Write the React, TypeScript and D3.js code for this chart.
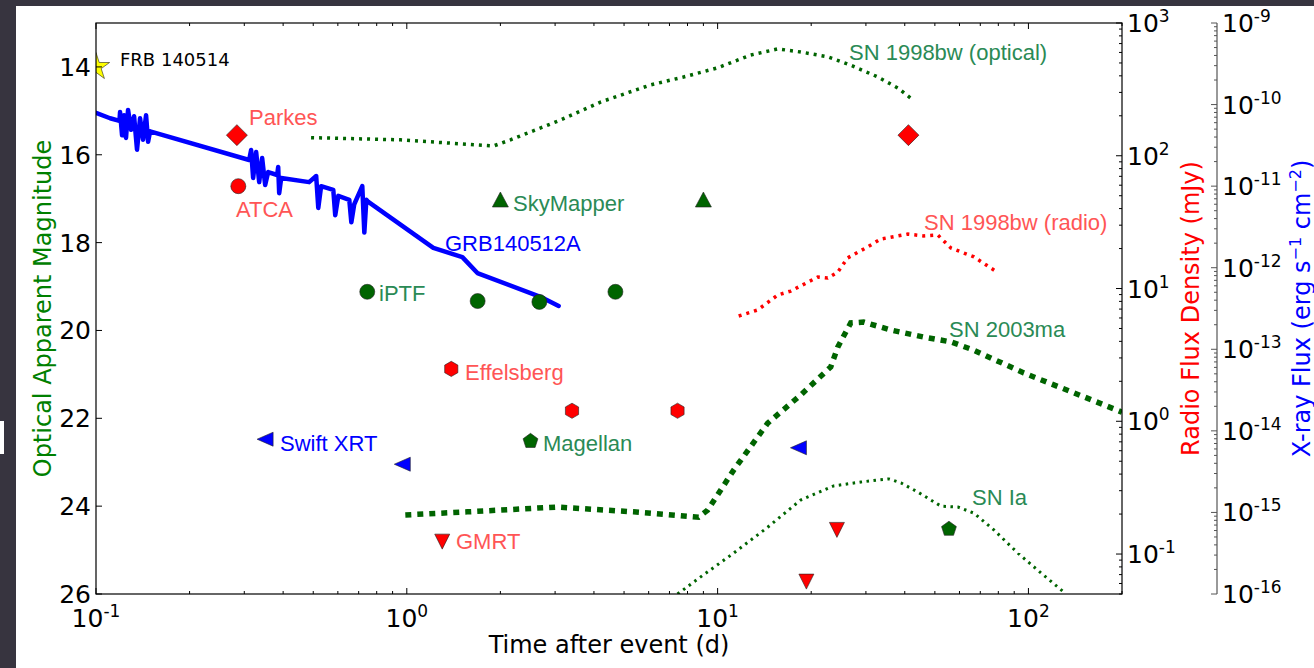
import * as d3 from "d3";

const W = 1314, H = 668;
const L = 96, R = 1122, T = 23, B = 594;
const XSPINE = 1217;

// FRB
const frbT = [0.1];
const frbMag = [14];

// optical detections / limits (mag)
const skyMapperT = [2.0, 9.0];
const skyMapperMag = [17.03, 17.03];
const iptfT = [0.746, 1.69, 2.67, 4.69];
const iptfMag = [19.12, 19.33, 19.35, 19.12];
const magellanT = [2.5, 55.5];
const magellanMag = [22.52, 24.52];

// radio (mJy)
const parkesT = [0.284, 41.1];
const parkesFlux = [143, 143];
const atcaT = [0.287];
const atcaFlux = [59];
const effelsbergT = [1.39, 3.4, 7.43];
const effelsbergFlux = [2.48, 1.2, 1.2];
const gmrtT = [1.3, 19.3, 24.2];
const gmrtFlux = [0.124, 0.062, 0.152];

// x-ray (erg s^-1 cm^-2)
const xrtT = [0.35, 0.967, 18.2];
const xrtFlux = [7.9e-15, 3.9e-15, 6.2e-15];

// GRB140512A light curve
const grbT = [0.1, 0.111, 0.119, 0.1195, 0.1213, 0.1231, 0.1249, 0.1268, 0.1297, 0.1326, 0.1355, 0.1386, 0.1417, 0.1449, 0.1471, 0.1493,
  0.311, 0.3156, 0.3203, 0.3275, 0.335, 0.3424, 0.3502, 0.358, 0.3827, 0.3856, 0.3885, 0.3943,
  0.485, 0.511, 0.519, 0.53, 0.58, 0.5885, 0.602, 0.653, 0.663, 0.6775, 0.719, 0.73, 0.741, 0.752,
  1.217, 1.509, 1.687, 2.69, 3.08];
const grbFlux = [7.9e-11, 6.8e-11, 6.3e-11, 8.1e-11, 4.2e-11, 7.4e-11, 3.9e-11, 8.6e-11, 4.9e-11, 7.2e-11, 2.8e-11, 6.8e-11, 3.7e-11, 7.4e-11, 3.5e-11, 4.7e-11,
  2.09e-11, 2.77e-11, 1.26e-11, 2.62e-11, 1.12e-11, 2.21e-11, 1.03e-11, 1.49e-11, 1.37e-11, 1.72e-11, 8.2e-12, 1.26e-11,
  1.12e-11, 1.33e-11, 5.4e-12, 1.0e-11, 9.0e-12, 4.4e-12, 7.6e-12, 6.8e-12, 3.6e-12, 6.0e-12, 1.0e-11, 2.7e-12, 6.8e-12, 6.4e-12,
  1.75e-12, 1.35e-12, 8.6e-13, 4.4e-13, 3.4e-13];

// SN 1998bw optical (mag)
const sn98oT = [0.492, 0.953, 1.9, 2.155, 3.12, 4.2, 6.08, 7.77, 10.0, 12.77, 15.61, 18.5, 22.61, 26.8, 32.8, 38.0, 42.5];
const sn98oMag = [15.61, 15.66, 15.8, 15.66, 15.21, 14.8, 14.41, 14.23, 14.02, 13.73, 13.59, 13.66, 13.77, 13.96, 14.23, 14.48, 14.75];

// SN 1998bw radio (mJy)
const sn98rT = [11.69, 13.45, 15.61, 17.18, 21.0, 22.6, 24.35, 26.2, 30.4, 33.5, 40.9, 46.1, 51.1, 56.3, 66.8, 79.2];
const sn98rFlux = [6.21, 6.89, 8.93, 9.57, 12.2, 12.0, 13.3, 17.0, 20.6, 23.6, 25.7, 24.9, 25.3, 20.2, 17.3, 13.3];

// SN 2003ma (mag)
const sn03T = [0.989, 1.566, 3.05, 5.36, 8.69, 9.29, 11.26, 14.49, 18.5, 23.12, 24.35, 26.8, 29.5, 36.1, 46.1, 56.3, 66.8, 96.7, 140.1, 200];
const sn03Mag = [24.2, 24.13, 24.02, 24.13, 24.25, 24.09, 23.18, 22.11, 21.47, 20.83, 20.38, 19.83, 19.81, 19.99, 20.15, 20.26, 20.45, 20.97, 21.42, 21.86];

// SN Ia (mag)
const snIaT = [7.43, 8.82, 11.26, 14.49, 18.5, 23.63, 28.9, 35.5, 38.9, 44.1, 52.3, 59.3, 66.8, 77.4, 92.5, 109.7, 130.1];
const snIaMag = [26.0, 25.61, 25.07, 24.48, 23.86, 23.54, 23.45, 23.38, 23.47, 23.68, 24.0, 24.02, 24.16, 24.54, 25.07, 25.52, 25.96];

const magTicks = [14, 16, 18, 20, 22, 24, 26];

const GREEN = "#006400";
const GREEN_TXT = "#2a8a55";
const RED = "#ff0000";
const RED_TXT = "#ff5555";
const BLUE = "#0000ff";
const SANS = "'DejaVu Sans', sans-serif";
const HELV = "'Liberation Sans', Arial, sans-serif";

const poly = (pts: [number, number][]) => d3.line()(pts) + "Z";
const ngon = (n: number, r: number) =>
  poly(d3.range(n).map((k) => {
    const a = -Math.PI / 2 + (2 * Math.PI * k) / n;
    return [r * Math.cos(a), r * Math.sin(a)] as [number, number];
  }));

const shapes: Record<string, string> = {
  up: poly([[0, -8], [-8, 7], [8, 7]]),
  down: poly([[0, 7.5], [-7.5, -7.5], [7.5, -7.5]]),
  left: poly([[-8, 0], [8, -7], [8, 7]]),
  diamond: poly([[0, -10.5], [10.5, 0], [0, 10.5], [-10.5, 0]]),
  hex: ngon(6, 7.6),
  pent: ngon(5, 7.8),
  circle: d3.symbol(d3.symbolCircle, Math.PI * 7.5 * 7.5)() as string,
  star: d3.symbol(d3.symbolStar, 230)() as string,
};

const isMajor = (v: number) => Math.abs(Math.log10(v) - Math.round(Math.log10(v))) < 1e-6;
const expOf = (v: number) => String(Math.round(Math.log10(v)));

export default function App() {
  const x = d3.scaleLog().domain([0.1, 200]).range([L, R]);
  const yMag = d3.scaleLinear().domain([13, 26]).range([T, B]);
  const yRadio = d3.scaleLog().domain([1000, 0.05]).range([T, B]);
  const yX = d3.scaleLog().domain([1e-9, 1e-16]).range([T, B]);

  const path = (ts: number[], vs: number[], ys: (v: number) => number) =>
    d3.line<number>().x((t) => x(t)).y((_, i) => ys(vs[i]))(ts) as string;

  const marks = (ts: number[], vs: number[], ys: (v: number) => number, shape: string, fill: string, key: string) =>
    ts.map((t, i) => (
      <path key={key + i} d={shapes[shape]} transform={`translate(${x(t)},${ys(vs[i])})`}
        fill={fill} stroke="#222" strokeWidth={0.6} />
    ));

  const xTicks = x.ticks();
  const rTicks = yRadio.ticks();
  const xrTicks = yX.ticks();

  const note = (tx: number, ty: number, s: string, fill: string) => (
    <text x={tx} y={ty} dy="0.36em" fontFamily={HELV} fontSize={22} fill={fill}>{s}</text>
  );

  return (
    <div style={{ position: "fixed", left: 0, top: 0 }}>
      <svg width={W} height={H} style={{ display: "block" }}>
        <defs>
          <clipPath id="plot"><rect x={L} y={T} width={R - L} height={B - T} /></clipPath>
        </defs>
        <rect width={W} height={H} fill="#37343f" />
        <rect x={16} y={6} width={W - 16} height={H - 6} fill="#fff" />
        <rect x={0} y={421} width={4} height={33} fill="#fff" />

        <g clipPath="url(#plot)" fill="none">
          <path d={path(sn98oT, sn98oMag, yMag)} stroke={GREEN} strokeWidth={3.5} strokeDasharray="3,5" />
          <path d={path(sn98rT, sn98rFlux, yRadio)} stroke={RED} strokeWidth={3.5} strokeDasharray="3,5" />
          <path d={path(sn03T, sn03Mag, yMag)} stroke={GREEN} strokeWidth={5.5} strokeDasharray="6,6" />
          <path d={path(snIaT, snIaMag, yMag)} stroke={GREEN} strokeWidth={3} strokeDasharray="2.5,4.5" />
          <path d={path(grbT, grbFlux, yX)} stroke={BLUE} strokeWidth={4.5} strokeLinejoin="round" strokeLinecap="round" />
        </g>

        <g clipPath="url(#plot)">
          {marks(frbT, frbMag, yMag, "star", "#ffff00", "frb")}
          {marks(skyMapperT, skyMapperMag, yMag, "up", GREEN, "sky")}
          {marks(iptfT, iptfMag, yMag, "circle", GREEN, "iptf")}
          {marks(magellanT, magellanMag, yMag, "pent", GREEN, "mag")}
          {marks(parkesT, parkesFlux, yRadio, "diamond", RED, "pk")}
          {marks(atcaT, atcaFlux, yRadio, "circle", RED, "atca")}
          {marks(effelsbergT, effelsbergFlux, yRadio, "hex", RED, "eff")}
          {marks(gmrtT, gmrtFlux, yRadio, "down", RED, "gmrt")}
          {marks(xrtT, xrtFlux, yX, "left", BLUE, "xrt")}
        </g>

        {/* annotations */}
        <text x={120} y={60} dy="0.36em" fontFamily={SANS} fontSize={18} fill="#000">FRB 140514</text>
        {note(249, 117, "Parkes", RED_TXT)}
        {note(236, 209, "ATCA", RED_TXT)}
        {note(445, 243, "GRB140512A", BLUE)}
        {note(379, 293, "iPTF", GREEN_TXT)}
        {note(513, 203, "SkyMapper", GREEN_TXT)}
        {note(465, 372, "Effelsberg", RED_TXT)}
        {note(280, 443, "Swift XRT", BLUE)}
        {note(543, 443, "Magellan", GREEN_TXT)}
        {note(456, 541, "GMRT", RED_TXT)}
        {note(849, 52, "SN 1998bw (optical)", GREEN_TXT)}
        {note(924, 222, "SN 1998bw (radio)", RED_TXT)}
        {note(949, 329, "SN 2003ma", GREEN_TXT)}
        {note(972, 497, "SN Ia", GREEN_TXT)}

        {/* frame */}
        <rect x={L} y={T} width={R - L} height={B - T} fill="none" stroke="#000" strokeWidth={1.2} />

        {/* x ticks top & bottom */}
        {xTicks.map((v, i) => {
          const len = isMajor(v) ? 6 : 3;
          return (
            <g key={"xt" + i} stroke="#000" strokeWidth={1}>
              <line x1={x(v)} x2={x(v)} y1={B} y2={B - len} />
              <line x1={x(v)} x2={x(v)} y1={T} y2={T + len} />
            </g>
          );
        })}
        {xTicks.filter(isMajor).map((v, i) => (
          <text key={"xl" + i} x={x(v)} y={627} textAnchor="middle" fontFamily={SANS} fontSize={25} fill="#000">
            <tspan>10</tspan><tspan dy={-10} fontSize={17}>{expOf(v)}</tspan>
          </text>
        ))}

        {/* magnitude axis */}
        {magTicks.map((m) => (
          <g key={"m" + m}>
            <line x1={L} x2={L + 6} y1={yMag(m)} y2={yMag(m)} stroke="#000" />
            <text x={91} y={yMag(m)} dy={9} textAnchor="end" fontFamily={SANS} fontSize={25} fill="#000">{m}</text>
          </g>
        ))}

        {/* radio axis */}
        {rTicks.map((v, i) => (
          <line key={"rt" + i} x1={R} x2={R - (isMajor(v) ? 6 : 3)} y1={yRadio(v)} y2={yRadio(v)} stroke="#000" />
        ))}
        {rTicks.filter(isMajor).map((v, i) => (
          <text key={"rl" + i} x={1127} y={yRadio(v) + 9} fontFamily={SANS} fontSize={25} fill="#000">
            <tspan>10</tspan><tspan dy={-10} fontSize={17}>{expOf(v)}</tspan>
          </text>
        ))}

        {/* x-ray axis */}
        <line x1={XSPINE} x2={XSPINE} y1={T} y2={B} stroke="#777" strokeWidth={1.5} />
        {xrTicks.map((v, i) => (
          <line key={"xr" + i} x1={XSPINE} x2={XSPINE - (isMajor(v) ? 6 : 3)} y1={yX(v)} y2={yX(v)} stroke="#555" />
        ))}
        {xrTicks.filter(isMajor).map((v, i) => (
          <text key={"xrl" + i} x={1222} y={yX(v) + 9} fontFamily={SANS} fontSize={25} fill="#000">
            <tspan>10</tspan><tspan dy={-10} fontSize={17}>{expOf(v)}</tspan>
          </text>
        ))}

        {/* axis titles */}
        <text x={609} y={653} textAnchor="middle" fontFamily={SANS} fontSize={24} fill="#000">Time after event (d)</text>
        <text transform={`translate(42,${(T + B) / 2}) rotate(-90)`} dy="0.36em" textAnchor="middle"
          fontFamily={SANS} fontSize={24} fill="#008000">Optical Apparent Magnitude</text>
        <text transform={`translate(1190,${(T + B) / 2}) rotate(-90)`} dy="0.36em" textAnchor="middle"
          fontFamily={SANS} fontSize={24} fill="#ff0000">Radio Flux Density (mJy)</text>
        <text transform={`translate(1301,${(T + B) / 2}) rotate(-90)`} dy="0.36em" textAnchor="middle"
          fontFamily={SANS} fontSize={24} fill="#0000ff">
          <tspan>X-ray Flux (erg s</tspan><tspan dy={-9} fontSize={16}>−1</tspan>
          <tspan dy={9}> cm</tspan><tspan dy={-9} fontSize={16}>−2</tspan><tspan dy={9}>)</tspan>
        </text>
      </svg>
    </div>
  );
}
